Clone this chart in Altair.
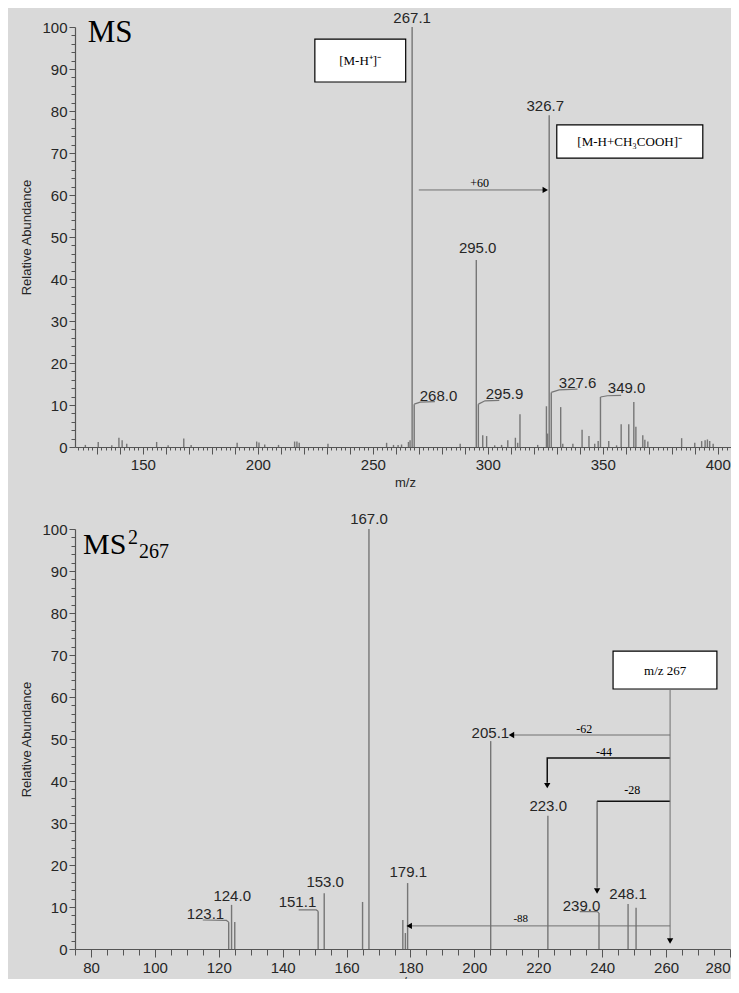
import altair as alt
import pandas as pd

# ---------------- MS full scan ----------------
ms_mz = [125.0, 130.6, 136.5, 139.6, 141.0, 143.0, 156.0, 161.0, 167.8, 171.0,
         191.0, 199.5, 200.5, 203.0, 209.0, 216.0, 217.0, 218.0, 230.5, 256.0,
         259.0, 261.0, 262.5, 265.5, 266.2, 267.1, 268.0, 288.0, 295.0, 295.9,
         297.8, 299.5, 303.0, 306.0, 308.7, 312.0, 313.0, 314.0, 321.7, 325.5,
         326.0, 326.7, 327.6, 331.7, 332.6, 337.0, 341.0, 344.0, 346.5, 348.0,
         349.0, 352.6, 356.0, 358.0, 361.3, 363.5, 364.4, 367.4, 368.3, 369.6,
         384.3, 390.0, 393.0, 394.5, 395.5, 396.5, 398.0]
ms_int = [0.5, 1.2, 0.4, 2.2, 1.6, 0.8, 1.2, 0.4, 2.0, 0.5,
          1.0, 1.3, 1.1, 0.6, 0.5, 1.3, 1.3, 1.0, 0.8, 1.0,
          0.5, 0.5, 0.6, 1.2, 1.6, 100.0, 10.2, 0.8, 44.5, 10.2,
          2.8, 2.6, 0.4, 0.5, 1.6, 2.2, 1.0, 7.8, 0.5, 9.7,
          3.2, 79.0, 13.0, 9.5, 0.8, 0.8, 4.1, 2.6, 0.8, 1.4,
          11.9, 1.4, 0.4, 5.4, 5.4, 10.7, 4.8, 2.8, 1.7, 1.3,
          2.1, 1.0, 1.4, 1.6, 1.8, 1.4, 0.8]

ms_label_text = ["267.1", "326.7", "295.0", "268.0", "295.9", "327.6", "349.0"]

# ---------------- MS2 of m/z 267 ----------------
ms2_mz = [123.1, 124.0, 125.0, 151.1, 153.0, 165.0, 167.0, 177.6, 178.4, 179.1,
          205.1, 223.0, 239.0, 248.1, 250.6]
ms2_int = [6.4, 10.5, 6.4, 9.0, 13.3, 11.2, 100.0, 6.9, 3.8, 15.7,
           49.5, 31.7, 8.6, 10.7, 9.8]

ms2_label_text = ["167.0", "205.1", "223.0", "179.1", "153.0", "124.0", "248.1",
                  "123.1", "151.1", "239.0"]

loss_text = ["-62", "-44", "-28", "-88"]

SANS = "Liberation Sans"
SERIF = "Liberation Serif"
INK = "#262626"
PEAK = "#767676"

def axis_x(values, label_every, major, minor_len, major_len, title_pad):
    return alt.Axis(
        values=values, title="m/z", grid=False, labelOverlap=False,
        labelExpr=f"datum.value % {label_every} === 0 ? datum.label : ''",
        tickSize={"condition": {"test": f"datum.value % {major} === 0", "value": major_len},
                  "value": minor_len},
        labelFont=SANS, labelFontSize=15, labelColor=INK, labelPadding=3,
        titleFont=SANS, titleFontSize=13, titleFontWeight="normal", titleColor=INK,
        titlePadding=title_pad, domainColor="#555", tickColor="#555", domainWidth=1.2)

axis_y = alt.Axis(
    values=list(range(0, 101, 2)), title="Relative Abundance", grid=False,
    labelOverlap=False,
    labelExpr="datum.value % 10 === 0 ? datum.label : ''",
    tickSize={"condition": {"test": "datum.value % 10 === 0", "value": 6}, "value": 4},
    labelFont=SANS, labelFontSize=15, labelColor=INK, labelPadding=2,
    titleFont=SANS, titleFontSize=13, titleFontWeight="normal", titleColor=INK,
    titlePadding=8, domainColor="#555", tickColor="#555", domainWidth=1.2)


def build(mz, inten, xdomain, xaxis, width, labels, leaders, texts, boxes,
          lines, arrows):
    xs = alt.Scale(domain=xdomain, nice=False, zero=False)
    ys = alt.Scale(domain=[0, 100], nice=False)
    X = lambda f="x": alt.X(f"{f}:Q", scale=xs, axis=xaxis)
    Y = lambda f="y": alt.Y(f"{f}:Q", scale=ys, axis=axis_y)

    peaks = pd.DataFrame({"x": mz, "y": inten, "y0": [0.0] * len(mz)})
    layers = [alt.Chart(peaks).mark_rule(color=PEAK, strokeWidth=1.4).encode(
        x=X(), y=Y(), y2=alt.Y2("y0:Q"))]

    # label leader lines
    if leaders:
        ld = pd.DataFrame(leaders, columns=["g", "o", "x", "y"])
        layers.append(alt.Chart(ld).mark_line(color=PEAK, strokeWidth=1.2).encode(
            x=X(), y=Y(), detail="g:N", order="o:Q"))

    # annotation boxes
    if boxes:
        bd = pd.DataFrame(boxes, columns=["x", "x2", "y", "y2"])
        layers.append(alt.Chart(bd).mark_rect(fill="white", stroke="black",
                                              strokeWidth=1.2).encode(
            x=X(), x2=alt.X2("x2:Q"), y=Y(), y2=alt.Y2("y2:Q")))

    # arrow lines
    if lines:
        lnd = pd.DataFrame(lines, columns=["g", "o", "x", "y", "c", "w"])
        for (c, w), sub in lnd.groupby(["c", "w"]):
            layers.append(alt.Chart(sub).mark_line(color=c, strokeWidth=w).encode(
                x=X(), y=Y(), detail="g:N", order="o:Q"))
    if arrows:
        ad = pd.DataFrame(arrows, columns=["x", "y", "s"])
        layers.append(alt.Chart(ad).mark_point(filled=True, color="black", opacity=1,
                                               size=40).encode(
            x=X(), y=Y(), shape=alt.Shape("s:N", scale=None)))

    # peak labels
    lab = pd.DataFrame(labels, columns=["t", "x", "y", "a"])
    for a, sub in lab.groupby("a"):
        layers.append(alt.Chart(sub).mark_text(font=SANS, fontSize=15, color=INK,
                                               align=a, baseline="alphabetic").encode(
            x=X(), y=Y(), text="t:N"))

    # other texts (serif)
    td = pd.DataFrame(texts, columns=["t", "x", "y", "a", "size"])
    for (a, s), sub in td.groupby(["a", "size"]):
        layers.append(alt.Chart(sub).mark_text(font=SERIF, fontSize=float(s),
                                               color="black", align=a,
                                               baseline="alphabetic").encode(
            x=X(), y=Y(), text="t:N"))

    return alt.layer(*layers).properties(width=width, height=420)


# ---------- top panel ----------
top_labels = [
    (ms_label_text[0], 267.1, 101.0, "center"),
    (ms_label_text[1], 325.0, 80.0, "center"),
    (ms_label_text[2], 295.6, 46.2, "center"),
    (ms_label_text[3], 270.4, 10.9, "left"),
    (ms_label_text[4], 299.1, 11.4, "left"),
    (ms_label_text[5], 330.9, 14.0, "left"),
    (ms_label_text[6], 352.2, 12.9, "left"),
]
top_leaders = [
    ("a", 0, 268.0, 10.2), ("a", 1, 270.6, 10.7), ("a", 2, 277.0, 10.8),
    ("b", 0, 295.9, 10.2), ("b", 1, 298.8, 11.0), ("b", 2, 305.0, 11.1),
    ("c", 0, 327.6, 13.0), ("c", 1, 331.0, 13.6), ("c", 2, 339.0, 13.8),
    ("d", 0, 349.0, 11.9), ("d", 1, 352.0, 12.2), ("d", 2, 358.0, 12.3),
]
top_texts = [
    ("MS", 126.0, 96.4, "left", 31),
    ("[M-H\u207a]\u207b", 244.5, 91.0, "center", 13),
    ("[M-H+CH\u2083COOH]\u207b", 361.7, 71.6, "center", 13),
    ("+60", 296.5, 62.0, "center", 12),
]
top_boxes = [(224.8, 264.3, 97.1, 86.9), (330.0, 393.5, 76.7, 68.8)]
top_lines = [("p", 0, 270.0, 61.2, "#707070", 1.0), ("p", 1, 324.5, 61.2, "#707070", 1.0)]
top_arrows = [(325.0, 61.2, "triangle-right")]

top = build(ms_mz, ms_int, [120.5, 407.5],
            axis_x(list(range(122, 408, 2)), 50, 10, 3, 7, 4), 660,
            top_labels, top_leaders, top_texts, top_boxes, top_lines, top_arrows)

# ---------- bottom panel ----------
bot_labels = [
    (ms2_label_text[0], 167.0, 101.2, "center"),
    (ms2_label_text[1], 205.0, 50.3, "center"),
    (ms2_label_text[2], 223.1, 32.9, "center"),
    (ms2_label_text[3], 179.3, 17.1, "center"),
    (ms2_label_text[4], 153.3, 14.8, "center"),
    (ms2_label_text[5], 124.2, 11.4, "center"),
    (ms2_label_text[6], 248.1, 11.9, "center"),
    (ms2_label_text[7], 121.7, 7.2, "right"),
    (ms2_label_text[8], 150.5, 9.9, "right"),
    (ms2_label_text[9], 239.4, 9.0, "right"),
]
bot_leaders = [
    ("a", 0, 123.1, 6.4), ("a", 1, 122.4, 6.8), ("a", 2, 115.0, 6.9),
    ("b", 0, 151.1, 9.0), ("b", 1, 150.5, 9.3), ("b", 2, 145.0, 9.3),
    ("c", 0, 239.0, 8.6), ("c", 1, 238.4, 8.9), ("c", 2, 233.0, 8.9),
]
bot_texts = [
    ("MS", 77.5, 94.0, "left", 30),
    ("2", 91.6, 96.4, "left", 20),
    ("267", 95.0, 93.0, "left", 20),
    ("m/z 267", 259.7, 65.3, "center", 13),
    (loss_text[0], 234.4, 51.4, "center", 12),
    (loss_text[1], 240.6, 46.0, "center", 12),
    (loss_text[2], 249.4, 36.9, "center", 12),
    (loss_text[3], 214.5, 6.4, "center", 11),
]
bot_boxes = [(243.4, 275.9, 70.9, 61.9)]
G, K = "#707070", "#111111"
bot_lines = [
    ("v", 0, 261.25, 61.9, G, 1.0), ("v", 1, 261.25, 2.4, G, 1.0),
    ("m62", 0, 261.25, 50.95, G, 1.0), ("m62", 1, 212.0, 50.95, G, 1.0),
    ("m44", 0, 261.25, 45.5, K, 1.5), ("m44", 1, 222.8, 45.5, K, 1.5),
    ("m44", 2, 222.8, 39.6, K, 1.5),
    ("m28", 0, 261.25, 35.2, K, 1.5), ("m28", 1, 238.4, 35.2, K, 1.5),
    ("m28b", 0, 238.4, 35.2, "#444444", 1.0), ("m28b", 1, 238.4, 14.6, "#444444", 1.0),
    ("m88", 0, 261.25, 5.5, G, 1.0), ("m88", 1, 180.0, 5.5, G, 1.0),
]
bot_arrows = [
    (261.25, 1.9, "triangle-down"),
    (211.6, 50.95, "triangle-left"),
    (222.8, 38.9, "triangle-down"),
    (238.4, 13.8, "triangle-down"),
    (179.6, 5.5, "triangle-left"),
]

bottom = build(ms2_mz, ms2_int, [75, 280],
               axis_x(list(range(75, 281, 5)), 20, 20, 6, 8, 0), 655,
               bot_labels, bot_leaders, bot_texts, bot_boxes, bot_lines, bot_arrows)

chart = alt.vconcat(top, bottom, spacing=22).properties(
    background="#d9d9d9",
    padding={"left": 12, "top": 2, "right": -4, "bottom": -9},
).configure_view(stroke=None)

chart.save("out.html", embed_options={"renderer": "svg", "actions": False})
